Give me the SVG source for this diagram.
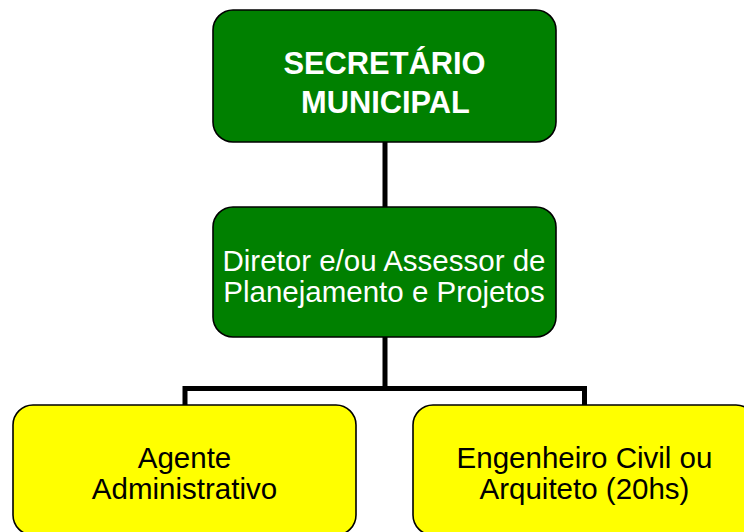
<svg xmlns="http://www.w3.org/2000/svg" width="744" height="532" viewBox="0 0 744 532">
<style>
.box{stroke:#000;stroke-width:1.6}
.green{fill:#008000}
.yellow{fill:#FFFF00}
.t{font-family:"Liberation Sans",Arial,sans-serif;font-size:29.5px;text-anchor:middle}
.tb{font-family:"Liberation Sans",Arial,sans-serif;font-size:30.8px;font-weight:bold;text-anchor:middle;fill:#fff}
.w{fill:#fff}
.k{fill:#000}
.conn{fill:none;stroke:#000;stroke-width:5;stroke-linecap:square}
</style>
<rect width="744" height="532" fill="#fff"/>
<g id="connectors">
<path class="conn" d="M385 142V207"/>
<path class="conn" d="M385 337V388.5"/>
<path class="conn" d="M185 405V388.5H584.5V405"/>
</g>
<g id="secretario">
<rect class="box green" x="213" y="10" width="343" height="132" rx="20" ry="20"/>
<text class="tb" x="384.5" y="73.5">SECRETÁRIO</text>
<text class="tb" x="385.5" y="112.5">MUNICIPAL</text>
</g>
<g id="diretor">
<rect class="box green" x="213" y="207" width="343" height="130" rx="20" ry="20"/>
<text class="t w" x="384" y="271">Diretor e/ou Assessor de</text>
<text class="t w" x="384" y="302">Planejamento e Projetos</text>
</g>
<g id="agente">
<rect class="box yellow" x="13" y="405" width="343" height="130" rx="20" ry="20"/>
<text class="t k" x="184.5" y="467.5">Agente</text>
<text class="t k" x="184.5" y="499">Administrativo</text>
</g>
<g id="engenheiro">
<rect class="box yellow" x="413" y="405" width="343" height="130" rx="20" ry="20"/>
<text class="t k" x="584.5" y="467.5">Engenheiro Civil ou</text>
<text class="t k" x="584.5" y="498.5">Arquiteto (20hs)</text>
</g>
</svg>
